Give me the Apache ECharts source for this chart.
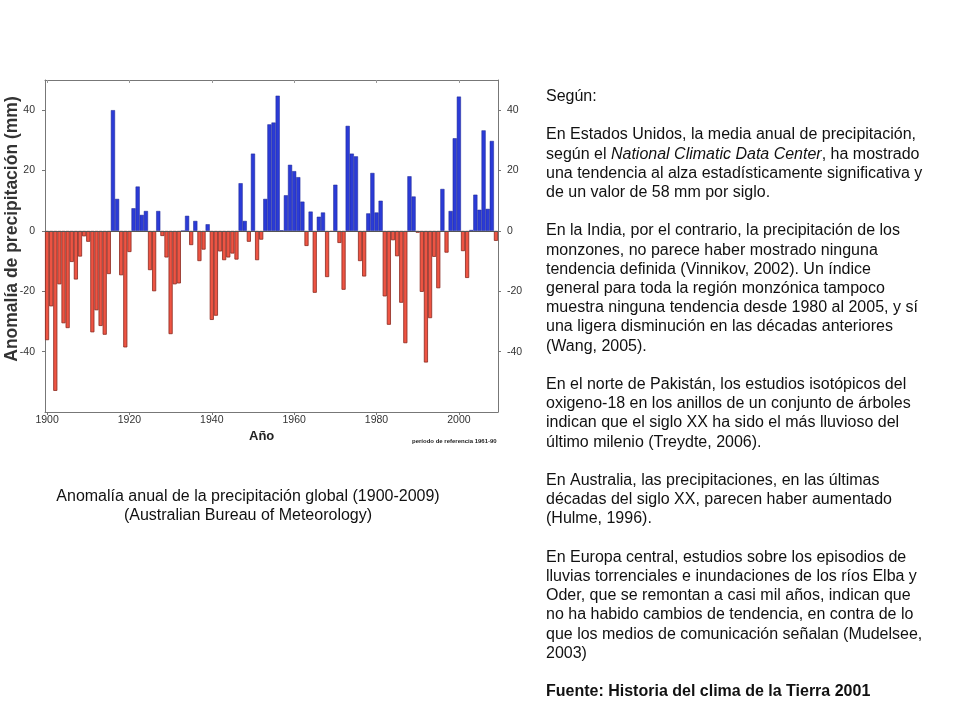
<!DOCTYPE html>
<html><head><meta charset="utf-8">
<script src="https://cdn.jsdelivr.net/npm/echarts@6/dist/echarts.min.js"></script>
<style>html,body{margin:0;padding:0;background:#fff}#c{width:960px;height:720px}</style>
</head><body><div id="c"></div>
<script>
var years = [];
for (var y = 1900; y <= 2009; y++) years.push(String(y));
var anomalies = [
 -36.2,-25.0,-53.0,-17.7,-30.6,-32.2,-10.3,-16.1,-8.5,-1.8,
 -3.6,-33.6,-26.3,-31.5,-34.4,-14.3,40.0,10.6,-14.7,-38.6,
 -7.0,7.5,14.7,5.3,6.6,-13.0,-20.0,6.6,-1.7,-8.8,
 -34.2,-17.7,-17.4,0.0,5.0,-4.7,3.3,-10.0,-6.2,2.2,
 -29.5,-28.1,-6.8,-9.7,-8.8,-7.5,-9.5,15.8,3.3,-3.6,
 25.6,-9.7,-2.9,10.6,35.3,35.9,44.8,0.2,11.8,21.9,
 19.8,17.8,9.7,-5.0,6.4,-20.5,4.7,6.1,-15.3,-0.3,
 15.3,-4.0,-19.5,34.8,25.6,24.7,-10.0,-15.1,5.8,19.2,
 6.1,10.0,-21.7,-31.1,-3.1,-8.4,-23.8,-37.2,18.1,11.4,
 -0.6,-20.2,-43.6,-28.9,-8.6,-19.0,13.9,-7.2,6.6,30.7,
 44.5,-6.7,-15.6,0.3,12.0,7.0,33.3,7.3,29.8,-3.3
];
var yTickValues = [-40, -20, 0, 20, 40];
var xAxisName = 'Año';
var yAxisName = 'Anomalía de precipitación (mm)';
var refNote = 'período de referencia 1961-90';
var captionLines = ['Anomalía anual de la precipitación global (1900-2009)', '(Australian Bureau of Meteorology)'];
var textLines = [
 'Según:',
 '',
 'En Estados Unidos, la media anual de precipitación,',
 'según el {i|National Climatic Data Center}, ha mostrado',
 'una tendencia al alza estadísticamente significativa y',
 'de un valor de 58 mm por siglo.',
 '',
 'En la India, por el contrario, la precipitación de los',
 'monzones, no parece haber mostrado ninguna',
 'tendencia definida (Vinnikov, 2002). Un índice',
 'general para toda la región monzónica tampoco',
 'muestra ninguna tendencia desde 1980 al 2005, y sí',
 'una ligera disminución en las décadas anteriores',
 '(Wang, 2005).',
 '',
 'En el norte de Pakistán, los estudios isotópicos del',
 'oxigeno-18 en los anillos de un conjunto de árboles',
 'indican que el siglo XX ha sido el más lluvioso del',
 'último milenio (Treydte, 2006).',
 '',
 'En Australia, las precipitaciones, en las últimas',
 'décadas del siglo XX, parecen haber aumentado',
 '(Hulme, 1996).',
 '',
 'En Europa central, estudios sobre los episodios de',
 'lluvias torrenciales e inundaciones de los ríos Elba y',
 'Oder, que se remontan a casi mil años, indican que',
 'no ha habido cambios de tendencia, en contra de lo',
 'que los medios de comunicación señalan (Mudelsee,',
 '2003)',
 '',
 '{b|Fuente: Historia del clima de la Tierra 2001}'
];

var BLUE = '#2b3bd6', RED = '#ee5443';
var barData = anomalies.map(function (v) {
  return { value: v, itemStyle: v >= 0
    ? { color: BLUE, borderColor: '#1a2490', borderWidth: 0.5 }
    : { color: RED, borderColor: '#8a2a20', borderWidth: 0.8 } };
});
var font = 'Liberation Sans, Arial, sans-serif';
var everyTwenty = function (i) { return i % 20 === 0; };

var chart = echarts.init(document.getElementById('c'), null, { renderer: 'canvas' });
chart.setOption({
  animation: false,
  backgroundColor: '#fff',
  textStyle: { fontFamily: font },
  grid: { left: 45, right: 462, top: 80, bottom: 308, containLabel: false },
  xAxis: [{
    type: 'category', data: years, position: 'bottom', boundaryGap: true,
    axisLine: { show: true, onZero: false, lineStyle: { color: '#777', width: 1 } },
    axisTick: { show: true, interval: everyTwenty, alignWithLabel: true, length: 3, lineStyle: { color: '#777' } },
    axisLabel: { interval: everyTwenty, color: '#333', fontSize: 10.5, margin: 3, fontFamily: font },
    splitLine: { show: false }
  }, {
    type: 'category', data: years, position: 'top', boundaryGap: true,
    axisLine: { show: true, onZero: false, lineStyle: { color: '#777', width: 1 } },
    axisTick: { show: true, interval: everyTwenty, alignWithLabel: true, inside: true, length: 3, lineStyle: { color: '#999' } },
    axisLabel: { show: false }, splitLine: { show: false }
  }],
  yAxis: [{
    type: 'value', min: -60, max: 50, position: 'left',
    axisLine: { show: true, onZero: false, lineStyle: { color: '#777' } },
    axisTick: { show: true, customValues: yTickValues, length: 3, lineStyle: { color: '#777' } },
    axisLabel: { customValues: yTickValues, color: '#333', fontSize: 10.5, margin: 10, fontFamily: font },
    splitLine: { show: false }
  }, {
    type: 'value', min: -60, max: 50, position: 'right',
    axisLine: { show: true, onZero: false, lineStyle: { color: '#777' } },
    axisTick: { show: true, customValues: yTickValues, length: 3, lineStyle: { color: '#777' } },
    axisLabel: { customValues: yTickValues, color: '#333', fontSize: 10.5, margin: 9, fontFamily: font },
    splitLine: { show: false }
  }],
  series: [{
    type: 'bar', xAxisIndex: 0, yAxisIndex: 0, data: barData,
    barWidth: '100%', barGap: '0%', barCategoryGap: '0%',
    markLine: {
      silent: true, symbol: ['none', 'none'], label: { show: false },
      lineStyle: { color: '#555', width: 1, type: 'solid' },
      data: [{ yAxis: 0 }]
    }
  }],
  graphic: [
    { type: 'text', x: 12, y: 229, rotation: Math.PI / 2, style: {
        text: yAxisName, font: 'bold 17.5px ' + font, fill: '#333', align: 'center', verticalAlign: 'middle' } },
    { type: 'text', x: 249, y: 430, style: { text: xAxisName, font: 'bold 13px ' + font, fill: '#222' } },
    { type: 'text', x: 412, y: 438, style: { text: refNote, font: 'bold 6px ' + font, fill: '#222' } },
    { type: 'text', x: 248, y: 487, style: {
        text: captionLines.join('\n'), font: '16px ' + font, fill: '#111', align: 'center', lineHeight: 19 } },
    { type: 'text', x: 546, y: 87, style: {
        text: textLines.join('\n'), font: '16px ' + font, fill: '#111', lineHeight: 19.2,
        rich: {
          i: { fontStyle: 'italic', fontSize: 16, fontFamily: font, fill: '#111', lineHeight: 19.2 },
          b: { fontWeight: 'bold', fontSize: 16, fontFamily: font, fill: '#111', lineHeight: 19.2 }
        } } }
  ]
});
</script></body></html>
